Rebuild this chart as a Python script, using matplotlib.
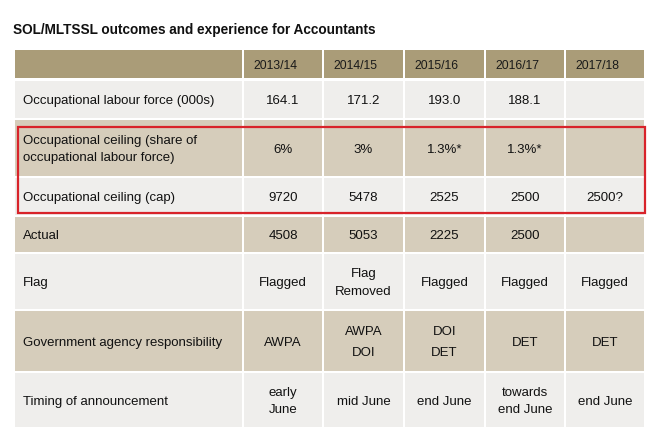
import matplotlib.pyplot as plt
from matplotlib.patches import Rectangle

plt.rcParams["font.family"] = ["Liberation Sans", "DejaVu Sans"]

TITLE = "SOL/MLTSSL outcomes and experience for Accountants"

years = ["2013/14", "2014/15", "2015/16", "2016/17", "2017/18"]

row_labels = [
    "Occupational labour force (000s)",
    "Occupational ceiling (share of\noccupational labour force)",
    "Occupational ceiling (cap)",
    "Actual",
    "Flag",
    "Government agency responsibility",
    "Timing of announcement",
]

labour_force = ["164.1", "171.2", "193.0", "188.1", ""]
ceiling_share = ["6%", "3%", "1.3%*", "1.3%*", ""]
ceiling_cap = ["9720", "5478", "2525", "2500", "2500?"]
actual = ["4508", "5053", "2225", "2500", ""]
flag = ["Flagged", "Flag\nRemoved", "Flagged", "Flagged", "Flagged"]
agency = ["AWPA", "AWPA\nDOI", "DOI\nDET", "DET", "DET"]
timing = ["early\nJune", "mid June", "end June", "towards\nend June", "end June"]

rows = [labour_force, ceiling_share, ceiling_cap, actual, flag, agency, timing]
highlight = [1, 2]  # rows inside the red box

# layout in pixel units
col_edges = [14, 243, 323, 404, 485, 565, 645]
row_edges = [50, 80, 119, 177, 216, 253, 310, 372, 428]
line_gap = [1.2, 1.58, 1.2, 1.2, 1.6, 2.1, 1.62]

HEADER = "#aa9c78"
DARK = "#d6cdbb"
LIGHT = "#efeeec"
RED = "#d8232a"
shade = [LIGHT, DARK, LIGHT, DARK, LIGHT, DARK, LIGHT]

fig = plt.figure(figsize=(6.68, 4.44), dpi=100)
ax = fig.add_axes([0, 0, 1, 1])
ax.set_xlim(0, 668)
ax.set_ylim(444, 0)
ax.axis("off")

ax.text(13, 34, TITLE, fontsize=9.8, fontweight="bold", color="#111111",
        va="baseline", ha="left")

FS = 9.5
g = 1.0

# header row
top, bot = row_edges[0], row_edges[1] - 2
for c in range(len(col_edges) - 1):
    x0, x1 = col_edges[c], col_edges[c + 1]
    ax.add_patch(Rectangle((x0 + g, top), x1 - x0 - 2 * g, bot - top,
                           facecolor=HEADER, edgecolor="none"))
    if c > 0:
        ax.text(x0 + 10, (top + bot) / 2 + 2, years[c - 1], fontsize=8.8,
                color="#1a1a1a", ha="left", va="center")

# body rows
for r, vals in enumerate(rows):
    top, bot = row_edges[r + 1] + g, row_edges[r + 2] - g
    ym = (top + bot) / 2 + 1.5
    for c in range(len(col_edges) - 1):
        x0, x1 = col_edges[c], col_edges[c + 1]
        ax.add_patch(Rectangle((x0 + g, top), x1 - x0 - 2 * g, bot - top,
                               facecolor=shade[r], edgecolor="none"))
        if c == 0:
            ax.text(x0 + 9, ym, row_labels[r], fontsize=FS, color="#111111",
                    ha="left", va="center", linespacing=line_gap[r])
        else:
            ax.text((x0 + x1) / 2, ym, vals[c - 1], fontsize=FS,
                    color="#111111", ha="center", va="center",
                    linespacing=line_gap[r], multialignment="center")

# red highlight box
hy0 = row_edges[highlight[0] + 1] + 8
hy1 = row_edges[highlight[-1] + 2] - 3
ax.add_patch(Rectangle((18, hy0), col_edges[-1] - 18, hy1 - hy0,
                       facecolor="none", edgecolor=RED, linewidth=1.6))

fig.savefig("out.png", dpi=100)
